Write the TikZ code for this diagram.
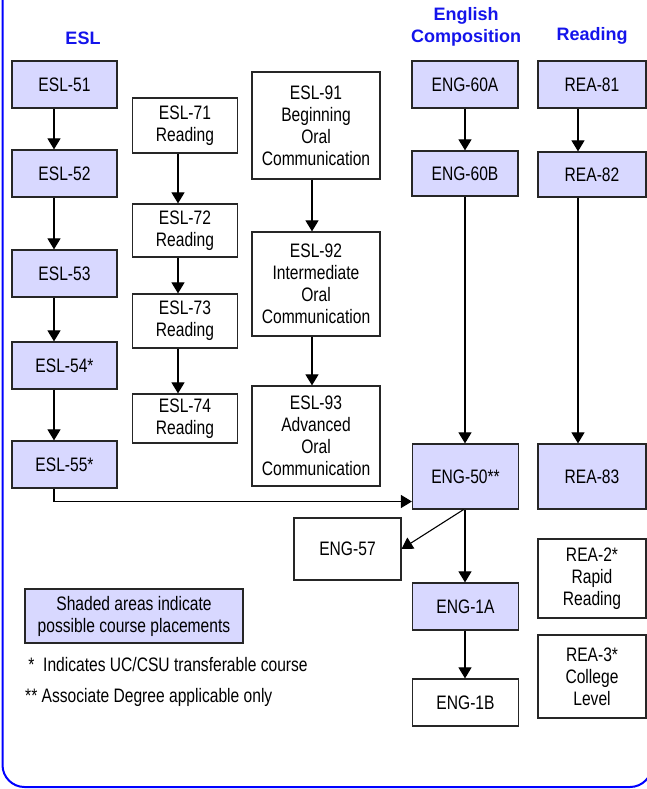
\documentclass[tikz,border=0pt]{standalone}
\usepackage{fontspec}
\setmainfont{Liberation Sans}
\newfontfamily\condfont{Liberation Sans}[FakeStretch=0.8]
\usetikzlibrary{arrows.meta}
\definecolor{placeshade}{RGB}{216,216,255}
\definecolor{titleblue}{RGB}{20,20,235}
\tikzset{
	course/.style={draw=black!85, line width=1.2pt, align=center, inner sep=0pt,
		font=\condfont\fontsize{19.5}{22}\selectfont},
	placed/.style={course, fill=placeshade},
	flow/.style={line width=1.1pt, -{Triangle[width=13pt,length=11pt]}},
	heading/.style={text=titleblue, align=center, inner sep=0pt,
		font=\bfseries\fontsize{18}{22}\selectfont},
	note/.style={anchor=west, inner sep=0pt, font=\condfont\fontsize{19.5}{22}\selectfont}
}

\begin{document}
\begin{tikzpicture}[x=1pt, y=-1pt]
		\useasboundingbox (0,0) rectangle (647,789);
		\clip (0,0) rectangle (647,789);
		% Draw outer frame
		\draw[blue, line width=2pt, rounded corners=22pt] (2.5,-40) rectangle (652,787);

		% column headings
		\node[heading] (eslhead) at (83,38) {ESL};
		\node[heading] (enghead) at (466,27) {English\\Composition};
		\node[heading] (reahead) at (592,36) {Reading};

		% x of the arrows in each column
		\coordinate (eslx) at (54,0);
		\coordinate (rdgx) at (178,0);
		\coordinate (oralx) at (312,0);
		\coordinate (engx) at (465,0);
		\coordinate (reax) at (578,0);

		% -----------------------------------------------------
		\node[placed, minimum width=105pt, minimum height=47pt] (esl51) at (64.5,84.5) {ESL-51};
		\node[placed, minimum width=105pt, minimum height=47pt] (esl52) at (64.5,173.5) {ESL-52};
		\node[placed, minimum width=105pt, minimum height=47pt] (esl53) at (64.5,273.5) {ESL-53};
		\node[placed, minimum width=105pt, minimum height=47pt] (esl54) at (64.5,365.5) {ESL-54*};
		\node[placed, minimum width=105pt, minimum height=47pt] (esl55) at (64.5,464.5) {ESL-55*};

		\draw[flow] (esl51.south -| eslx) -- (esl52.north -| eslx);
		\draw[flow] (esl52.south -| eslx) -- (esl53.north -| eslx);
		\draw[flow] (esl53.south -| eslx) -- (esl54.north -| eslx);
		\draw[flow] (esl54.south -| eslx) -- (esl55.north -| eslx);

		% -----------------------------------------------------
		\node[course, minimum width=105pt, minimum height=55pt] (esl71) at (185,125.5) {ESL-71\\Reading};
		\node[course, minimum width=105pt, minimum height=53pt] (esl72) at (185,230.5) {ESL-72\\Reading};
		\node[course, minimum width=105pt, minimum height=54pt] (esl73) at (185,321) {ESL-73\\Reading};
		\node[course, minimum width=105pt, minimum height=49pt] (esl74) at (185,418.5) {ESL-74\\Reading};

		\draw[flow] (esl71.south -| rdgx) -- (esl72.north -| rdgx);
		\draw[flow] (esl72.south -| rdgx) -- (esl73.north -| rdgx);
		\draw[flow] (esl73.south -| rdgx) -- (esl74.north -| rdgx);

		% -----------------------------------------------------
		\node[course, minimum width=128pt, minimum height=107pt] (esl91) at (316,125.5) {ESL-91\\Beginning\\Oral\\Communication};
		\node[course, minimum width=128pt, minimum height=104pt] (esl92) at (316,284) {ESL-92\\Intermediate\\Oral\\Communication};
		\node[course, minimum width=128pt, minimum height=100pt] (esl93) at (316,436) {ESL-93\\Advanced\\Oral\\Communication};

		\draw[flow] (esl91.south -| oralx) -- (esl92.north -| oralx);
		\draw[flow] (esl92.south -| oralx) -- (esl93.north -| oralx);

		% -----------------------------------------------------
		\node[placed, minimum width=106pt, minimum height=47pt] (eng60a) at (465,84.5) {ENG-60A};
		\node[placed, minimum width=106pt, minimum height=45pt] (eng60b) at (465,173.5) {ENG-60B};
		\node[placed, minimum width=106pt, minimum height=65pt] (eng50) at (465.5,476.5) {ENG-50**};
		\node[course, minimum width=107pt, minimum height=62pt] (eng57) at (347.5,549) {ENG-57};
		\node[placed, minimum width=106pt, minimum height=47pt] (eng1a) at (465.5,606.5) {ENG-1A};
		\node[course, minimum width=106pt, minimum height=47pt] (eng1b) at (465.5,702.5) {ENG-1B};

		\draw[flow] (eng60a.south -| engx) -- (eng60b.north -| engx);
		\draw[flow] (eng60b.south -| engx) -- (eng50.north -| engx);
		\draw[flow] (esl55.south -| eslx) |- ([yshift=-25pt]eng50.west);
		\draw[flow] ([xshift=-2pt]eng50.south) -- (eng57.east);
		\draw[flow] (eng50.south -| engx) -- (eng1a.north -| engx);
		\draw[flow] (eng1a.south -| engx) -- (eng1b.north -| engx);

		% -----------------------------------------------------
		\node[placed, minimum width=108pt, minimum height=47pt] (rea81) at (592,84.5) {REA-81};
		\node[placed, minimum width=108pt, minimum height=45pt] (rea82) at (592,174.5) {REA-82};
		\node[placed, minimum width=108pt, minimum height=65pt] (rea83) at (592,476.5) {REA-83};
		\node[course, minimum width=108pt, minimum height=79pt] (rea2) at (592,578.5) {REA-2*\\Rapid\\Reading};
		\node[course, minimum width=108pt, minimum height=83pt] (rea3) at (592,676.5) {REA-3*\\College\\Level};

		\draw[flow] (rea81.south -| reax) -- (rea82.north -| reax);
		\draw[flow] (rea82.south -| reax) -- (rea83.north -| reax);

		% Legend
		\node[placed, minimum width=218pt, minimum height=54pt] (legend) at (134,616) {Shaded areas indicate\\possible course placements};
		\node[note] (note1) at (25,665) {\makebox[18pt][l]{\,*}Indicates UC/CSU transferable course};
		\node[note] (note2) at (25,697) {** Associate Degree applicable only};

\end{tikzpicture}
\end{document}
